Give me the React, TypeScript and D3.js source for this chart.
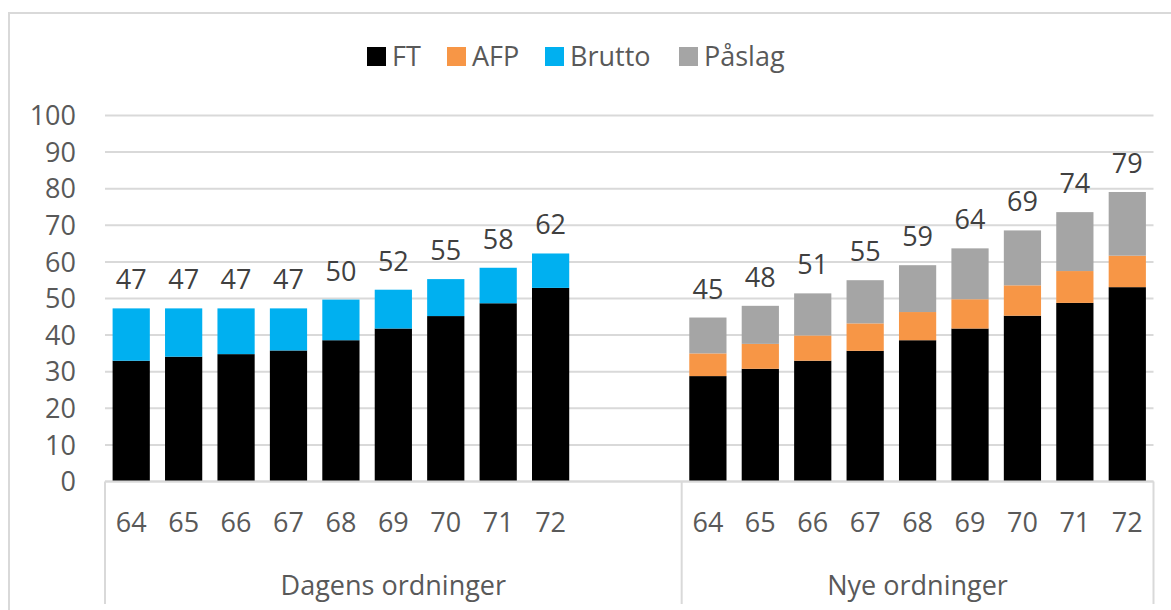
import React from "react";
import * as d3 from "d3";

const ages = ["64", "65", "66", "67", "68", "69", "70", "71", "72"];
const groups = ["Dagens ordninger", "Nye ordninger"];

// Dagens ordninger
const dagensFT = [33.0, 34.1, 34.8, 35.8, 38.6, 41.8, 45.2, 48.7, 52.9];
const dagensBrutto = [14.3, 13.2, 12.5, 11.5, 11.1, 10.6, 10.1, 9.7, 9.4];

// Nye ordninger
const nyeFT = [28.8, 30.8, 33.0, 35.7, 38.6, 41.8, 45.3, 48.8, 53.1];
const nyeAFP = [6.2, 6.8, 6.9, 7.5, 7.7, 8.0, 8.3, 8.7, 8.6];
const nyePaslag = [9.8, 10.4, 11.5, 11.8, 12.8, 13.9, 15.0, 16.1, 17.4];

const seriesNames = ["FT", "AFP", "Brutto", "Påslag"];
const seriesColors = ["#000000", "#F79646", "#00B0F0", "#A5A5A5"];
const yTicks = [0, 10, 20, 30, 40, 50, 60, 70, 80, 90, 100];

type Row = { key: string; group: number; age: string; FT: number; AFP: number; Brutto: number; "Påslag": number };

const rows: Row[] = [];
ages.forEach((a, i) =>
  rows.push({ key: "d" + a, group: 0, age: a, FT: dagensFT[i], AFP: 0, Brutto: dagensBrutto[i], "Påslag": 0 })
);
ages.forEach((a, i) =>
  rows.push({ key: "n" + a, group: 1, age: a, FT: nyeFT[i], AFP: nyeAFP[i], Brutto: 0, "Påslag": nyePaslag[i] })
);

// category slots: 9 + 2 blank + 9
const domain = [...ages.map((a) => "d" + a), "blank1", "blank2", ...ages.map((a) => "n" + a)];

const FONT = "'Open Sans', sans-serif";
const TXT = "#595959";
const GRID = "#D9D9D9";

export default function App() {
  const W = 1171;
  const H = 610;
  const left = 105;
  const right = 1153.5;
  const y0 = 481.5;
  const y100 = 115.5;

  const x = d3.scaleBand<string>().domain(domain).range([left, right]).paddingInner(0.29).paddingOuter(0.145);
  const y = d3.scaleLinear().domain([0, 100]).range([y0, y100]);

  const stack = d3.stack<Row>().keys(seriesNames);
  const stacked = stack(rows);

  const groupStart = [left, (x("n64") as number) - (x.step() * x.paddingInner()) / 2];
  const groupEnd = [groupStart[1], right];

  const legendX = [367, 447, 545, 679];

  return (
    <svg width={W} height={H} style={{ position: "absolute", left: 0, top: 0, background: "#fff" }} fontFamily={FONT}>
      {/* outer chart border (cropped) */}
      <rect x={9} y={13} width={W + 20} height={H + 20} fill="none" stroke={GRID} strokeWidth={2} />

      {/* gridlines */}
      {yTicks.map((t) => (
        <line key={t} x1={left} x2={right} y1={y(t)} y2={y(t)} stroke={GRID} strokeWidth={2} />
      ))}

      {/* y labels */}
      {yTicks.map((t) => (
        <text key={"yl" + t} x={76} y={y(t)} dy="0.36em" textAnchor="end" fontSize={27} fill={TXT}>
          {t}
        </text>
      ))}

      {/* bars */}
      {stacked.map((s, si) =>
        s.map((d) => {
          const h = y(d[0]) - y(d[1]);
          if (h <= 0) return null;
          return (
            <rect
              key={s.key + d.data.key}
              x={x(d.data.key)}
              y={y(d[1])}
              width={x.bandwidth()}
              height={h}
              fill={seriesColors[si]}
            />
          );
        })
      )}

      {/* total labels */}
      {rows.map((r) => {
        const total = r.FT + r.AFP + r.Brutto + r["Påslag"];
        return (
          <text
            key={"lab" + r.key}
            x={(x(r.key) as number) + x.bandwidth() / 2}
            y={y(total) - 19}
            textAnchor="middle"
            fontSize={27}
            fill="#404040"
          >
            {Math.round(total)}
          </text>
        );
      })}

      {/* x axis line */}
      <line x1={left} x2={right} y1={y0} y2={y0} stroke={GRID} strokeWidth={2} />
      {/* group separators */}
      {[groupStart[0], groupStart[1], right].map((gx, i) => (
        <line key={"sep" + i} x1={gx} x2={gx} y1={y0} y2={604} stroke={GRID} strokeWidth={2} />
      ))}

      {/* age tick labels */}
      {rows.map((r) => (
        <text
          key={"tl" + r.key}
          x={(x(r.key) as number) + x.bandwidth() / 2}
          y={522.5}
          dy="0.36em"
          textAnchor="middle"
          fontSize={27}
          fill={TXT}
        >
          {r.age}
        </text>
      ))}

      {/* group labels */}
      {groups.map((g, i) => (
        <text
          key={g}
          x={(groupStart[i] + groupEnd[i]) / 2}
          y={585}
          dy="0.36em"
          textAnchor="middle"
          fontSize={27}
          fill={TXT}
        >
          {g}
        </text>
      ))}

      {/* legend */}
      {seriesNames.map((n, i) => (
        <g key={"lg" + n}>
          <rect x={legendX[i]} y={47} width={19} height={19} fill={seriesColors[i]} />
          <text x={legendX[i] + 25} y={56.5} dy="0.36em" fontSize={27} fill={TXT}>
            {n}
          </text>
        </g>
      ))}
    </svg>
  );
}
